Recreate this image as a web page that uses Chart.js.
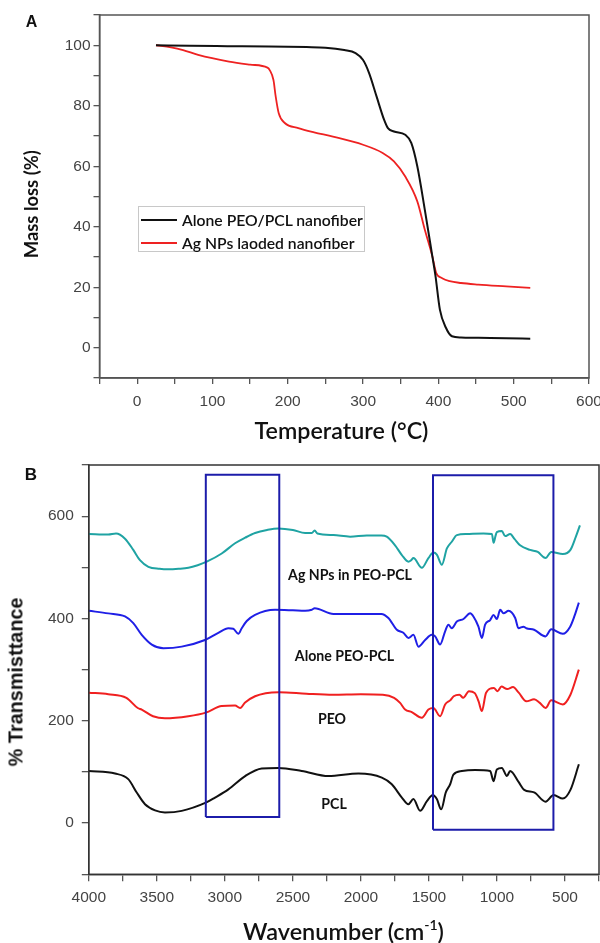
<!DOCTYPE html>
<html><head><meta charset="utf-8">
<script src="https://cdn.jsdelivr.net/npm/chart.js@4.4.1/dist/chart.umd.min.js"></script>
<style>
html,body{margin:0;padding:0;background:#fff;}
#wrap{position:relative;width:600px;height:943px;overflow:hidden;background:#fff;}
canvas{position:absolute;left:0;}
.t{position:absolute;white-space:nowrap;line-height:1;color:#111;}
</style></head><body>
<div id="wrap">
<canvas id="c1" width="600" height="450" style="top:0;width:600px;height:450px"></canvas>
<canvas id="c2" width="600" height="493" style="top:450px;width:600px;height:493px"></canvas>
</div>
<script>
// ---------- Panel A: TGA ----------
const tgaLabels = ['Alone PEO/PCL nanofiber', 'Ag NPs laoded nanofiber'];
const tempAlone = [25, 70, 120, 175, 225, 250, 275, 290, 300, 308, 318, 328, 333, 341, 356, 364, 372, 382, 392, 396, 402, 410, 418, 430, 453, 490, 522];
const massAlone = [100, 99.8, 99.7, 99.6, 99.4, 99.2, 98.4, 97.4, 95.1, 90.8, 83, 75.3, 72.6, 71.5, 70.4, 67.7, 60, 45.6, 30.2, 24, 12.6, 6.6, 3.8, 3.4, 3.3, 3.1, 3.0];
const tempAg = [25, 45, 61, 81, 122, 150, 173, 176, 181, 184, 188, 196, 214, 235, 260, 300, 326, 341, 356, 372, 382, 392, 397, 405, 415, 430, 453, 490, 522];
const massAg = [100, 99.3, 98.4, 96.8, 94.6, 93.6, 92.6, 91.8, 88.5, 83, 77.5, 74.3, 72.6, 71.2, 69.8, 67.1, 64.4, 61.6, 56.6, 48.4, 39, 30.2, 24.8, 23, 22, 21.4, 20.9, 20.3, 19.8];
const tgaXTicks = [0, 100, 200, 300, 400, 500, 600];
const tgaYTicks = [0, 20, 40, 60, 80, 100];

// ---------- Panel B: FTIR ----------
const ftirLabels = ['Ag NPs in PEO-PCL', 'Alone PEO-PCL', 'PEO', 'PCL'];
const wnAg = [4000, 3857, 3800, 3734, 3673, 3624, 3562, 3480, 3415, 3340, 3268, 3200, 3133, 3023, 2925, 2850, 2778, 2690, 2607, 2500, 2410, 2361, 2340, 2320, 2202, 2079, 1957, 1850, 1810, 1749, 1699, 1651, 1630, 1614, 1552, 1504, 1467, 1442, 1405, 1368, 1332, 1295, 1221, 1099, 1037, 1025, 1010, 1001, 964, 940, 903, 870, 830, 756, 700, 643, 601, 516, 460, 420, 390];
const tAg = [565, 564, 566, 556, 534, 514, 501, 497, 496, 497, 499, 504, 511, 527, 547, 558, 567, 573, 576, 573, 567, 567, 572, 566, 563, 560, 562, 562, 560, 543, 524, 511, 514, 518, 499, 518, 529, 525, 505, 537, 550, 563, 565, 566, 565, 548, 562, 569, 571, 561, 565, 555, 543, 534, 530, 518, 530, 526, 534, 560, 582];
const wnAlone = [4000, 3857, 3734, 3673, 3611, 3537, 3452, 3317, 3146, 3048, 2974, 2938, 2901, 2876, 2839, 2778, 2631, 2500, 2410, 2361, 2340, 2202, 1957, 1850, 1798, 1736, 1688, 1651, 1614, 1577, 1528, 1479, 1454, 1418, 1381, 1357, 1332, 1295, 1246, 1197, 1173, 1136, 1111, 1087, 1050, 1025, 1001, 976, 952, 915, 866, 842, 805, 784, 727, 643, 601, 516, 462, 430, 398];
const tAlone = [415, 410, 404, 391, 368, 349, 342, 345, 358, 372, 381, 380, 370, 381, 395, 407, 417, 416, 415, 417, 420, 409, 409, 409, 401, 378, 372, 362, 368, 345, 358, 368, 365, 349, 375, 388, 381, 394, 399, 410, 404, 384, 362, 388, 397, 407, 399, 417, 410, 415, 401, 381, 384, 381, 378, 365, 379, 370, 384, 405, 431];
const wnPEO = [4000, 3857, 3724, 3640, 3611, 3528, 3440, 3268, 3140, 3023, 2925, 2888, 2851, 2778, 2700, 2602, 2400, 2205, 2000, 1839, 1756, 1712, 1675, 1626, 1552, 1504, 1467, 1418, 1381, 1344, 1318, 1276, 1248, 1206, 1163, 1135, 1111, 1080, 1023, 995, 967, 925, 882, 840, 784, 727, 685, 643, 601, 516, 460, 398];
const tPEO = [255, 252, 245, 225, 222, 209, 205, 209, 216, 229, 230, 225, 236, 248, 254, 256, 253, 251, 252, 251, 245, 235, 222, 217, 206, 222, 225, 209, 232, 240, 248, 251, 245, 258, 254, 238, 219, 255, 264, 258, 267, 262, 266, 255, 238, 242, 235, 225, 240, 232, 251, 300];
const wnPCL = [4000, 3807, 3710, 3648, 3587, 3513, 3440, 3317, 3140, 3072, 2974, 2851, 2729, 2607, 2435, 2239, 2018, 1846, 1773, 1699, 1651, 1614, 1565, 1515, 1471, 1442, 1410, 1376, 1344, 1320, 1258, 1160, 1050, 1025, 1001, 964, 927, 903, 840, 800, 727, 643, 584, 516, 460, 398];
const tPCL = [102, 97, 86, 60, 37, 25, 21, 24, 40, 50, 66, 92, 107, 108, 102, 92, 97, 89, 76, 50, 37, 47, 24, 43, 55, 47, 27, 60, 76, 95, 102, 104, 102, 82, 105, 108, 92, 102, 80, 65, 60, 42, 55, 48, 65, 115];
// highlighted regions (wavenumber from, to; transmittance bottom, top)
const boxWnFrom = [3140, 1470];
const boxWnTo = [2600, 585];
const boxTBottom = [12, -13];
const boxTTop = [681, 680];
const ftirXTicks = [500, 1000, 1500, 2000, 2500, 3000, 3500, 4000];
const ftirYTicks = [0, 200, 400, 600];

const pts = (xs, ys) => xs.map((x, i) => ({x, y: ys[i]}));

const frame = {id: 'frame', afterDatasetsDraw(c, a, o) {
  const {left, top, right, bottom} = c.chartArea; const x = c.ctx;
  x.save(); x.strokeStyle = o.color; x.lineWidth = o.width;
  x.strokeRect(left, top, right - left, bottom - top); x.restore();
}};

function axis(min, max, step, labels, tickLen, pad, fsz, extra) {
  return Object.assign({type: 'linear', min, max,
    ticks: {stepSize: step, autoSkip: false, maxRotation: 0, minRotation: 0, padding: pad, color: '#444',
      font: {family: '"Liberation Sans", Arial, sans-serif', size: fsz},
      callback: (v) => labels.includes(Math.round(v)) && Math.abs(v - Math.round(v)) < 1e-6 ? String(Math.round(v)) : ''},
    grid: {display: true, drawOnChartArea: false, drawTicks: true, tickLength: tickLen, color: '#555', lineWidth: 1.3},
    border: {display: true, color: '#555', width: 1.5}
  }, extra);
}
const line = (data, color, w) => ({data, borderColor: color, backgroundColor: color, borderWidth: w, pointRadius: 0, fill: false, cubicInterpolationMode: 'monotone'});

new Chart(document.getElementById('c1'), {
  type: 'line',
  data: {datasets: [
    Object.assign(line(pts(tempAlone, massAlone), '#111111', 2), {label: tgaLabels[0]}),
    Object.assign(line(pts(tempAg, massAg), '#ee2222', 1.8), {label: tgaLabels[1]})
  ]},
  options: {responsive: false, animation: false, events: [],
    layout: {padding: {left: 0, top: 15, right: 11, bottom: 0}},
    plugins: {legend: {display: false}, tooltip: {enabled: false}, frame: {color: '#555', width: 1.5}},
    scales: {
      x: axis(-50, 600, 50, tgaXTicks, 6, 8, 15.5, {afterFit(s) { s.height = 72; s.paddingLeft = 0; s.paddingRight = 0; }}),
      y: axis(-10, 110, 10, tgaYTicks, 6, 3, 15.5, {afterFit(s) { s.width = 99.5; s.paddingTop = 0; s.paddingBottom = 0; }})
    }
  },
  plugins: [frame]
});

const boxDatasets = boxWnFrom.map((f, i) => ({
  data: [{x: f, y: boxTBottom[i]}, {x: f, y: boxTTop[i]}, {x: boxWnTo[i], y: boxTTop[i]}, {x: boxWnTo[i], y: boxTBottom[i]}, {x: f, y: boxTBottom[i]}],
  borderColor: '#1c1caa', borderWidth: 2, pointRadius: 0, fill: false, tension: 0
}));

new Chart(document.getElementById('c2'), {
  type: 'line',
  data: {datasets: boxDatasets.concat([
    Object.assign(line(pts(wnAg, tAg), '#1fa3a3', 2), {label: ftirLabels[0]}),
    Object.assign(line(pts(wnAlone, tAlone), '#1f1fe6', 2), {label: ftirLabels[1]}),
    Object.assign(line(pts(wnPEO, tPEO), '#f02020', 2), {label: ftirLabels[2]}),
    Object.assign(line(pts(wnPCL, tPCL), '#111111', 2), {label: ftirLabels[3]})
  ])},
  options: {responsive: false, animation: false, events: [],
    layout: {padding: {left: 0, top: 15, right: 1, bottom: 0}},
    plugins: {legend: {display: false}, tooltip: {enabled: false}, frame: {color: '#333', width: 1.5}},
    scales: {
      x: axis(250, 4000, 250, ftirXTicks, 7, 7, 15.5, {reverse: true, afterFit(s) { s.height = 68.7; s.paddingLeft = 0; s.paddingRight = 0; }}),
      y: axis(-100, 700, 100, ftirYTicks, 7, 8, 15.5, {afterFit(s) { s.width = 88.8; s.paddingTop = 0; s.paddingBottom = 0; }})
    }
  },
  plugins: [frame]
});

// ---------- text overlays ----------
const wrap = document.getElementById('wrap');
function mk(html, family, weight) {
  const d = document.createElement('div'); d.className = 't'; d.innerHTML = html;
  d.style.fontFamily = family; d.style.fontWeight = weight; wrap.appendChild(d); return d;
}
function fit(d, target) { d.style.fontSize = '40px'; const w = d.getBoundingClientRect().width; const fs = 40 * target / w; d.style.fontSize = fs + 'px'; return fs; }
function center(d, cx, cy, rot) {
  const r = d.getBoundingClientRect();
  d.style.left = (cx - r.width / 2) + 'px'; d.style.top = (cy - r.height / 2) + 'px';
  if (rot) d.style.transform = 'rotate(-90deg)';
}
function leftMid(d, lx, cy) { const r = d.getBoundingClientRect(); d.style.left = lx + 'px'; d.style.top = (cy - r.height / 2) + 'px'; }

const ARIAL = '"Liberation Sans", Arial, sans-serif';
const CAL = 'Lato, "Open Sans", sans-serif';

let a = mk('A', ARIAL, 700); a.style.fontSize = '16px'; center(a, 31.5, 22);
let b = mk('B', ARIAL, 700); b.style.fontSize = '17px'; center(b, 31, 474);

let tx = mk('Temperature (°C)', CAL, 600); fit(tx, 174); center(tx, 341.5, 431);
let ty = mk('Mass loss (%)', CAL, 700); fit(ty, 108); center(ty, 31, 204, true);
let wx = mk('Wavenumber (cm<span style="font-size:0.6em;position:relative;top:-0.75em">-1</span>)', CAL, 600); fit(wx, 201); center(wx, 343.5, 932);
let wy = mk('% Transmisttance', ARIAL, 700); fit(wy, 169); center(wy, 16.5, 682, true);

// legend
const lg = document.createElement('div');
Object.assign(lg.style, {position: 'absolute', left: '138px', top: '206px', width: '227px', height: '46px', border: '1px solid #c8c8c8', boxSizing: 'border-box'});
wrap.appendChild(lg);
const lineColors = ['#111111', '#ee2222'];
const rowsY = [219.5, 242.5];
let lfs = 0;
tgaLabels.forEach((t, i) => {
  const s = document.createElement('div');
  Object.assign(s.style, {position: 'absolute', left: '141px', width: '36px', height: '2px', top: (rowsY[i] - 1) + 'px', background: lineColors[i]});
  wrap.appendChild(s);
  const d = mk(t, CAL, 600);
  if (i === 0) lfs = fit(d, 181); else d.style.fontSize = lfs + 'px';
  leftMid(d, 182, rowsY[i]);
});

// FTIR curve labels
const labCX = [350, 344.5, 332, 334];
const labCY = [575, 656, 719, 804];
let ffs = 0;
ftirLabels.forEach((t, i) => {
  const d = mk(t, CAL, 700);
  if (i === 0) { ffs = fit(d, 124); } else d.style.fontSize = ffs + 'px';
  center(d, labCX[i], labCY[i]);
});
</script>
</body></html>
